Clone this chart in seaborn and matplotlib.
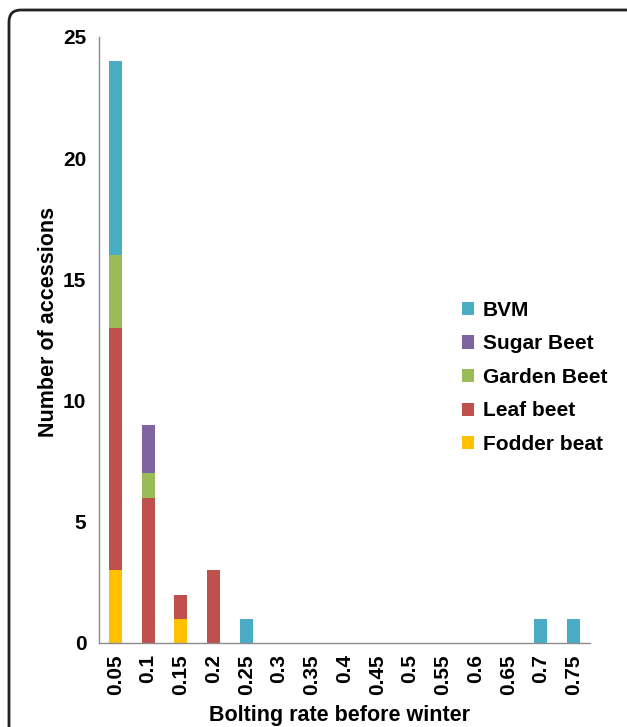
import matplotlib
matplotlib.use('Agg')
import matplotlib.pyplot as plt
import seaborn as sns
import numpy as np
from matplotlib.patches import Patch, FancyBboxPatch

# data
rates = ['0.05', '0.1', '0.15', '0.2', '0.25', '0.3', '0.35', '0.4',
         '0.45', '0.5', '0.55', '0.6', '0.65', '0.7', '0.75']
fodder_beat = [3, 0, 1, 0, 0, 0, 0, 0, 0, 0, 0, 0, 0, 0, 0]
leaf_beet   = [10, 6, 1, 3, 0, 0, 0, 0, 0, 0, 0, 0, 0, 0, 0]
garden_beet = [3, 1, 0, 0, 0, 0, 0, 0, 0, 0, 0, 0, 0, 0, 0]
sugar_beet  = [0, 2, 0, 0, 0, 0, 0, 0, 0, 0, 0, 0, 0, 0, 0]
bvm         = [8, 0, 0, 0, 1, 0, 0, 0, 0, 0, 0, 0, 0, 1, 1]

# stacking order bottom -> top
series = [('Fodder beat', fodder_beat, '#FFC000'),
          ('Leaf beet', leaf_beet, '#C0504D'),
          ('Garden Beet', garden_beet, '#9BBB59'),
          ('Sugar Beet', sugar_beet, '#8064A2'),
          ('BVM', bvm, '#4BACC6')]

sns.set_style('white')
plt.rcParams['font.family'] = ['Liberation Sans', 'DejaVu Sans']
plt.rcParams['font.weight'] = 'bold'
plt.rcParams['text.color'] = 'black'
plt.rcParams['xtick.labelcolor'] = 'black'
plt.rcParams['ytick.labelcolor'] = 'black'
plt.rcParams['axes.labelcolor'] = 'black'

fig = plt.figure(figsize=(6.27, 7.27), dpi=100)
ax = fig.add_axes([99/627, 84/727, 491/627, 606/727])

# overlay cumulative totals, tallest first
cum = np.cumsum([np.array(s[1]) for s in series], axis=0)
for i in range(len(series) - 1, -1, -1):
    sns.barplot(x=rates, y=cum[i], color=series[i][2], width=0.4,
                saturation=1, linewidth=0, ax=ax, order=rates)

ax.set_xlim(-0.5, len(rates) - 0.5)
ax.set_ylim(0, 25)
ax.set_yticks([0, 5, 10, 15, 20, 25])
ax.set_xticks(np.arange(len(rates)))
ax.set_xticklabels(rates, rotation=90, fontsize=15, fontweight='bold')
ax.set_xticks(np.arange(-0.5, len(rates)), minor=True)
ax.tick_params(axis='x', which='major', length=0, pad=8)
ax.tick_params(axis='x', which='minor', length=5, color='#8c8c8c', width=1)
ax.tick_params(axis='y', length=5, color='#8c8c8c', width=1, pad=4,
               labelsize=15)
for lab in ax.get_yticklabels():
    lab.set_fontweight('bold')

for side in ['top', 'right']:
    ax.spines[side].set_visible(False)
for side in ['left', 'bottom']:
    ax.spines[side].set_color('#8c8c8c')
    ax.spines[side].set_linewidth(1)

ax.set_xlabel('Bolting rate before winter', fontsize=15.5, fontweight='bold')
ax.set_ylabel('Number of accessions', fontsize=15.5, fontweight='bold')
ax.xaxis.set_label_coords(0.49, -0.102)
ax.yaxis.set_label_coords(-0.082, 0.53)

handles = [Patch(facecolor=c, edgecolor='none', label=n)
           for n, _, c in series[::-1]]
ax.legend(handles=handles, loc='upper left', frameon=False,
          bbox_to_anchor=(443/627, 1 - 282/727), bbox_transform=fig.transFigure,
          prop={'size': 15, 'weight': 'bold'}, handlelength=0.6,
          handleheight=0.6, handletextpad=0.4, labelspacing=0.7)

# rounded border, cut off at right and bottom like the reference
frame = FancyBboxPatch((0.09, -0.5), 7.0, 0.5 + 7.27 - 0.10,
                       boxstyle='round,pad=0,rounding_size=0.12',
                       transform=fig.dpi_scale_trans, facecolor='none',
                       edgecolor='#222222', linewidth=2, clip_on=False)
fig.add_artist(frame)

fig.savefig('out.png', dpi=100)
